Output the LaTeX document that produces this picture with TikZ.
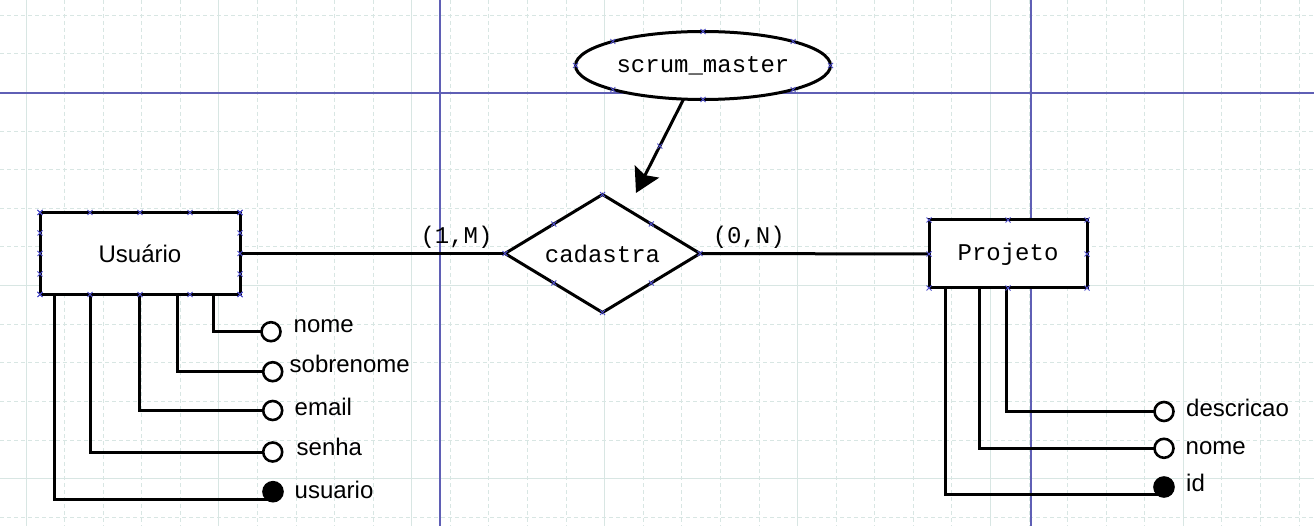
\documentclass[tikz,border=0pt]{standalone}
\usepackage{fontspec}
\setmainfont{Liberation Sans}
\setmonofont{Liberation Mono}
\usetikzlibrary{shapes.geometric,arrows.meta,calc}

\definecolor{gridgray}{HTML}{D8E6E3}
\definecolor{guideblue}{HTML}{5F5FB5}
\definecolor{handleblue}{HTML}{4F4FCC}

% small selection cross on a point
\newcommand{\hmark}[1]{\draw[handle] #1 +(-2.5,-2.5) -- +(2.5,2.5) +(-2.5,2.5) -- +(2.5,-2.5);}

\begin{document}
\begin{tikzpicture}[x=1pt, y=-1pt,
        entity/.style={rectangle, draw, fill=white, line width=3pt, inner sep=0pt, outer sep=0pt},
        relship/.style={diamond, draw, fill=white, line width=3pt, inner sep=0pt, outer sep=0pt,
            aspect=1.65, minimum width=195pt, minimum height=118pt, mono},
        derived/.style={ellipse, draw, fill=white, line width=3pt, inner sep=0pt, outer sep=0pt,
            minimum width=255pt, minimum height=68pt, mono},
        attr/.style={circle, draw, fill=white, line width=2.6pt, inner sep=0pt, outer sep=0pt, minimum size=19pt},
        keyattr/.style={attr, fill=black},
        attrlabel/.style={anchor=base west, inner sep=0pt, font=\fontsize{24}{28}\selectfont},
        mono/.style={font=\ttfamily\fontsize{24}{28}\selectfont},
        link/.style={line width=3pt},
        gridline/.style={draw=gridgray, line width=1pt},
        guide/.style={draw=guideblue, line width=1.6pt},
        handle/.style={draw=handleblue, line width=0.8pt}]

        \useasboundingbox (0,0) rectangle (1314,526);
        \fill[white] (0,0) rectangle (1314,526);

        % grid
        \foreach \k in {0,...,33} \draw[gridline, dash pattern=on 4pt off 3pt] ({26+38.58*\k},0) -- ++(0,526);
        \foreach \k in {0,5,...,30} \draw[gridline] ({26+38.58*\k},0) -- ++(0,526);
        \foreach \k in {0,...,13} \draw[gridline, dash pattern=on 4pt off 3pt] (0,{15.4+38.6*\k}) -- ++(1314,0);
        \foreach \k in {2,7,12} \draw[gridline] (0,{15.4+38.6*\k}) -- ++(1314,0);
        \draw[guide] (440,0) -- (440,526);
        \draw[guide] (1031,0) -- (1031,526);
        \draw[guide] (0,93) -- (1314,93);

        % entities and relationship
        \node[entity, minimum width=200pt, minimum height=82pt, font=\fontsize{24}{28}\selectfont] (usuario) at (140,253.5) {Usuário};
        \node[relship] (cadastra) at (602.5,253.5) {cadastra};
        \node[entity, mono, minimum width=158pt, minimum height=68pt] (projeto) at (1008,254) {Projeto};
        \node[derived] (scrum) at (703,65.5) {scrum\_master};
        \coordinate (tip) at (636,193);

        \draw[link] (usuario.east) -- node[mono, pos=.817, above=4pt, inner sep=0pt] {(1,M)} (cadastra.west);
        \draw[link] (cadastra.east) -- node[mono, pos=.213, above=4pt, inner sep=0pt] {(0,N)} (projeto.west);
        \draw[link, -{Stealth[length=24pt, width=27pt, inset=4pt]}] (scrum.-120) -- (tip);

        % attributes of Usuario
        \node[attr] (u-nome) at (271,331.7) {};
        \node[attr] (u-sobrenome) at (272.7,371.7) {};
        \node[attr] (u-email) at (272.7,410.5) {};
        \node[attr] (u-senha) at (272.7,452) {};
        \node[keyattr] (u-usuario) at (273,491.7) {};
        \draw[link] ([xshift=173.3pt]usuario.south west) |- (u-nome);
        \draw[link] ([xshift=137.7pt]usuario.south west) |- (u-sobrenome);
        \draw[link] ([xshift=99.3pt]usuario.south west) |- (u-email);
        \draw[link] ([xshift=50.7pt]usuario.south west) |- (u-senha);
        \draw[link] ([xshift=14.3pt]usuario.south west) |- (u-usuario.235);
        \node[attrlabel] (l-nome) at (293.5,333) {nome};
        \node[attrlabel] (l-sobrenome) at (289.5,372) {sobrenome};
        \node[attrlabel] (l-email) at (294.5,415) {email};
        \node[attrlabel] (l-senha) at (296.5,455) {senha};
        \node[attrlabel] (l-usuario) at (294.5,498.5) {usuario};

        % attributes of Projeto
        \node[attr] (p-descricao) at (1164,411.5) {};
        \node[attr] (p-nome) at (1164,448.3) {};
        \node[keyattr] (p-id) at (1164,487) {};
        \draw[link] ([xshift=77.7pt]projeto.south west) |- (p-descricao);
        \draw[link] ([xshift=50.3pt]projeto.south west) |- (p-nome);
        \draw[link] ([xshift=16.7pt]projeto.south west) |- (p-id.228);
        \node[attrlabel] (l-descricao) at (1186,416.7) {descricao};
        \node[attrlabel] (l-pnome) at (1185.5,454) {nome};
        \node[attrlabel] (l-id) at (1186,491.7) {id};

        % selection handles
        \foreach \t in {0,.25,.5,.75,1} {
            \hmark{($(usuario.north west)!\t!(usuario.north east)$)}
            \hmark{($(usuario.south west)!\t!(usuario.south east)$)}
            \hmark{($(usuario.north west)!\t!(usuario.south west)$)}
            \hmark{($(usuario.north east)!\t!(usuario.south east)$)}
        }
        \foreach \a in {north,south,east,west,north east,north west,south east,south west} {
            \hmark{(projeto.\a)}
            \hmark{(cadastra.\a)}
            \hmark{(scrum.\a)}
        }
        \hmark{($(scrum.-120)!.5!(tip)$)}
\end{tikzpicture}
\end{document}
